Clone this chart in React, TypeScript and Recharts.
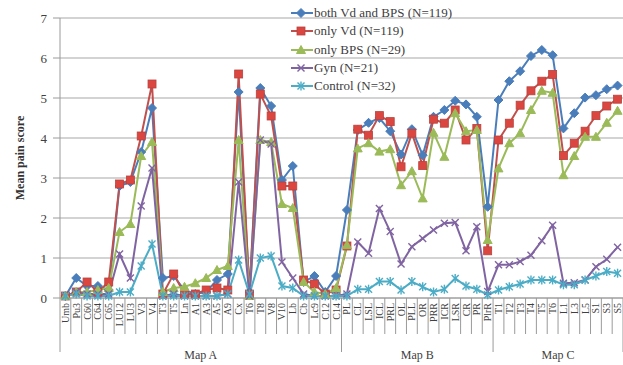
import { LineChart, Line, XAxis, YAxis, CartesianGrid, Legend, Label } from "recharts";

// category labels per map
const mapA = ["Umb", "Pu3", "C60", "C64", "C65", "LU12", "LU3", "V3", "V4", "T3", "T5", "Ln", "A1", "A3", "A5", "A9", "Cx", "T6", "T8", "V8", "V10", "Lb", "Cb", "Lc9", "C12", "C14"];
const mapB = ["PL", "CL", "LSL", "ICL", "PRL", "OL", "PLL", "OR", "PRR", "ICR", "LSR", "CR", "PR", "PlrR"];
const mapC = ["T1", "T2", "T3", "T4", "T5", "T6", "L1", "L3", "L5", "S1", "S3", "S5"];
const mapNames = ["Map A", "Map B", "Map C"];

// mean pain score per group
const bothVdBps = [
  0.05, 0.5, 0.3, 0.3, 0.2, 2.8, 2.9, 3.65, 4.75, 0.5, 0.55, 0.2, 0.1, 0.15, 0.45, 0.6, 5.15, 0.15, 5.25, 4.8, 2.95, 3.3, 0.4, 0.55, 0.15, 0.55,
  2.2, 4.2, 4.38, 4.5, 4.17, 3.59, 4.22, 3.57, 4.53, 4.7, 4.93, 4.84, 4.53, 2.28,
  4.95, 5.42, 5.67, 6.05, 6.2, 6.07, 4.24, 4.62, 5.01, 5.07, 5.22, 5.31,
];
const onlyVd = [
  0.05, 0.15, 0.4, 0.15, 0.4, 2.85, 2.95, 4.05, 5.35, 0.1, 0.6, 0.1, 0.1, 0.2, 0.25, 0.2, 5.6, 0.1, 5.1, 4.55, 2.8, 2.8, 0.45, 0.35, 0.1, 0.2,
  1.3, 4.22, 4.07, 4.56, 4.41, 3.28, 4.12, 3.31, 4.47, 4.37, 4.7, 3.95, 4.24, 1.18,
  3.95, 4.37, 4.82, 5.18, 5.42, 5.59, 3.56, 3.87, 4.17, 4.56, 4.8, 4.97,
];
const onlyBps = [
  0.05, 0.15, 0.15, 0.2, 0.25, 1.65, 1.85, 3.55, 3.9, 0.15, 0.25, 0.28, 0.37, 0.5, 0.7, 0.8, 3.95, 0.05, 3.95, 3.9, 2.35, 2.25, 0.4, 0.15, 0.1, 0.25,
  1.32, 3.74, 3.87, 3.66, 3.72, 2.82, 3.17, 2.49, 4.13, 3.53, 4.62, 4.17, 4.2, 1.45,
  3.24, 3.87, 4.12, 4.7, 5.18, 5.13, 3.07, 3.55, 4.03, 4.03, 4.38, 4.68,
];
const gyn = [
  0.05, 0.15, 0.1, 0.1, 0.1, 1.1, 0.5, 2.3, 3.25, 0.05, 0.1, 0.05, 0.05, 0.05, 0.05, 0.1, 2.9, 0.05, 3.95, 3.85, 0.9, 0.5, 0.1, 0.05, 0.05, 0.05,
  0.1, 1.4, 1.12, 2.24, 1.66, 0.85, 1.28, 1.49, 1.7, 1.87, 1.89, 1.18, 1.78, 0.16,
  0.83, 0.83, 0.91, 1.07, 1.43, 1.82, 0.37, 0.38, 0.45, 0.78, 0.97, 1.27,
];
const control = [
  0.05, 0.1, 0.05, 0.05, 0.05, 0.15, 0.15, 0.8, 1.35, 0.05, 0.05, 0.05, 0.05, 0.05, 0.05, 0.1, 0.95, 0.1, 1.0, 1.05, 0.3, 0.25, 0.05, 0.05, 0.05, 0.05,
  0.05, 0.22, 0.22, 0.41, 0.41, 0.2, 0.41, 0.28, 0.15, 0.22, 0.49, 0.3, 0.22, 0.08,
  0.2, 0.28, 0.35, 0.45, 0.45, 0.45, 0.33, 0.33, 0.45, 0.55, 0.66, 0.62,
];

const yTicks = [0, 1, 2, 3, 4, 5, 6, 7];

const categories = [...mapA, ...mapB, ...mapC];
const groups = [mapA, mapB, mapC];
const data = categories.map((cat, i) => ({
  cat,
  both: bothVdBps[i],
  vd: onlyVd[i],
  bps: onlyBps[i],
  gyn: gyn[i],
  control: control[i],
}));

const W = 623;
const H = 365;
const LEFT = 60;
const HALF = (W - LEFT) / categories.length / 2;
const FONT = "'Liberation Serif', serif";

const groupStarts: number[] = [];
const groupMids: number[] = [];
{
  let s = 0;
  groups.forEach((g) => {
    groupStarts.push(s);
    groupMids.push(s + g.length / 2 - 1);
    s += g.length;
  });
}

const marker = (kind: string, cx: number, cy: number, color: string, key?: string) => {
  if (kind === "diamond")
    return <polygon key={key} points={`${cx},${cy - 4.5} ${cx + 4.5},${cy} ${cx},${cy + 4.5} ${cx - 4.5},${cy}`} fill={color} stroke={color} />;
  if (kind === "square")
    return <rect key={key} x={cx - 4} y={cy - 4} width={8} height={8} fill="#DB4740" stroke="#B8423E" strokeWidth={0.8} />;
  if (kind === "triangle")
    return <polygon key={key} points={`${cx},${cy - 4.5} ${cx + 4.5},${cy + 3.5} ${cx - 4.5},${cy + 3.5}`} fill={color} stroke={color} />;
  if (kind === "cross")
    return (
      <g key={key} stroke={color} strokeWidth={1.4}>
        <line x1={cx - 3.5} y1={cy - 3.5} x2={cx + 3.5} y2={cy + 3.5} />
        <line x1={cx - 3.5} y1={cy + 3.5} x2={cx + 3.5} y2={cy - 3.5} />
      </g>
    );
  return (
    <g key={key} stroke={color} strokeWidth={1.4}>
      <line x1={cx - 3.5} y1={cy - 3.5} x2={cx + 3.5} y2={cy + 3.5} />
      <line x1={cx - 3.5} y1={cy + 3.5} x2={cx + 3.5} y2={cy - 3.5} />
      <line x1={cx} y1={cy - 4.5} x2={cx} y2={cy + 4.5} />
    </g>
  );
};

const series = [
  { key: "both", name: "both Vd and BPS (N=119)", color: "#4A7EBB", kind: "diamond" },
  { key: "vd", name: "only Vd (N=119)", color: "#C0504D", kind: "square" },
  { key: "bps", name: "only BPS (N=29)", color: "#9BBB59", kind: "triangle" },
  { key: "gyn", name: "Gyn (N=21)", color: "#8064A2", kind: "cross" },
  { key: "control", name: "Control (N=32)", color: "#4BACC6", kind: "star" },
];

const XTick = (props: any) => {
  const { x, y, payload } = props;
  const i = payload.index;
  const isStart = groupStarts.includes(i);
  const isLast = i === categories.length - 1;
  const gi = groupMids.indexOf(i);
  return (
    <g>
      <line x1={x - HALF} y1={y} x2={x - HALF} y2={y + (isStart ? 54 : 36)} stroke="#9a9a9a" />
      {isLast && <line x1={x + HALF} y1={y} x2={x + HALF} y2={y + 54} stroke="#9a9a9a" />}
      <text
        x={x}
        y={y + 5}
        transform={`rotate(-90, ${x}, ${y + 5})`}
        textAnchor="end"
        dominantBaseline="central"
        fontSize={10}
        fontFamily={FONT}
        fill="#404040"
      >
        {categories[i]}
      </text>
      {gi >= 0 && (
        <text x={x + HALF} y={y + 61} textAnchor="middle" fontSize={12} fontFamily={FONT} fill="#404040">
          {mapNames[gi]}
        </text>
      )}
    </g>
  );
};

const YTitle = (props: any) => {
  const vb = props.viewBox || {};
  const cy = vb.y + vb.height / 2;
  return (
    <text
      x={20}
      y={cy}
      transform={`rotate(-90, 20, ${cy})`}
      textAnchor="middle"
      dominantBaseline="central"
      fontSize={12}
      fontWeight="bold"
      fontFamily={FONT}
      fill="#333"
    >
      Mean pain score
    </text>
  );
};

const LegendBox = () => (
  <div style={{ fontFamily: FONT, fontSize: 13, color: "#404040" }}>
    {series.map((s) => (
      <div key={s.key} style={{ display: "flex", alignItems: "center", height: 18.3 }}>
        <svg width={22} height={12} style={{ marginRight: 1 }}>
          <line x1={0} y1={6} x2={22} y2={6} stroke={s.color} strokeWidth={2} />
          {marker(s.kind, 10, 6, s.color)}
        </svg>
        <span style={{ whiteSpace: "nowrap" }}>{s.name}</span>
      </div>
    ))}
  </div>
);

export default function App() {
  return (
    <div style={{ position: "absolute", left: 0, top: 0, background: "#fff" }}>
      <LineChart width={W} height={H} data={data} margin={{ top: 18, right: 0, left: 0, bottom: 0 }}>
        <CartesianGrid vertical={false} stroke="#c4c4c4" strokeWidth={1.4} />
        <XAxis
          dataKey="cat"
          interval={0}
          height={67}
          tickSize={0}
          tickMargin={0}
          tickLine={false}
          stroke="#9a9a9a"
          padding={{ left: HALF, right: HALF }}
          tick={<XTick />}
        />
        <YAxis
          width={LEFT}
          domain={[0, 7]}
          ticks={yTicks}
          interval={0}
          tickSize={7}
          tickMargin={6}
          stroke="#9a9a9a"
          tick={{ fill: "#404040", fontSize: 13, fontFamily: FONT }}
        >
          <Label content={<YTitle />} />
        </YAxis>
        <Legend
          layout="vertical"
          align="center"
          verticalAlign="middle"
          content={<LegendBox />}
          wrapperStyle={{ top: 4, left: 291, width: 200 }}
        />
        {series.map((s) => (
          <Line
            key={s.key}
            dataKey={s.key}
            name={s.name}
            stroke={s.color}
            strokeWidth={2}
            isAnimationActive={false}
            dot={(p: any) => marker(s.kind, p.cx, p.cy, s.color, `${s.key}-${p.index}`)}
            activeDot={false}
          />
        ))}
      </LineChart>
    </div>
  );
}
